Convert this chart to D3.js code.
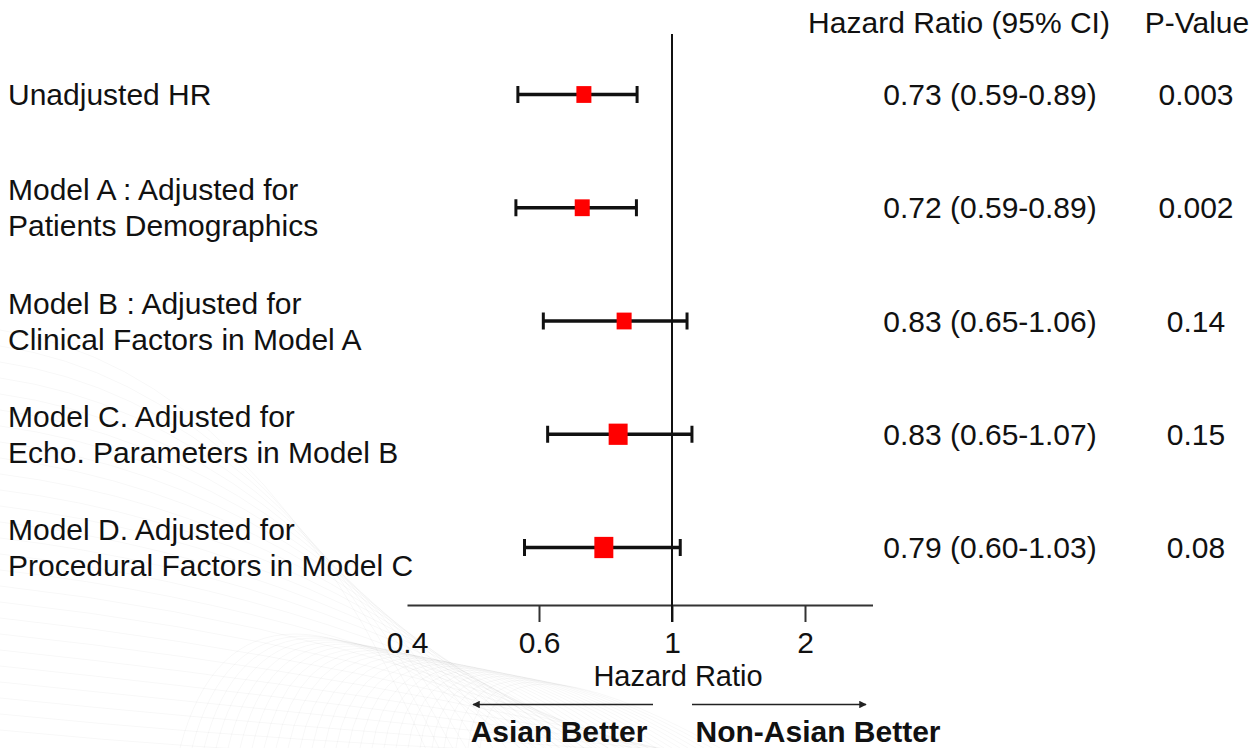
<!DOCTYPE html>
<html>
<head>
<meta charset="utf-8">
<script src="https://cdn.jsdelivr.net/npm/d3@7"></script>
<style>
  body { margin: 0; background: #fff; }
  svg { display: block; }
  text { font-family: "Liberation Sans", Arial, sans-serif; fill: #111; }
</style>
</head>
<body>
<div id="main"></div>
<script>
// row labels (one or two lines each)
const models = [
  ["Unadjusted HR"],
  ["Model A : Adjusted for", "Patients Demographics"],
  ["Model B : Adjusted for", "Clinical Factors in Model A"],
  ["Model C. Adjusted for", "Echo. Parameters in Model B"],
  ["Model D. Adjusted for", "Procedural Factors in Model C"]
]
// plotted positions
const hr = [0.735, 0.730, 0.856, 0.838, 0.795]
const ciLow = [0.568, 0.565, 0.613, 0.626, 0.578]
const ciHigh = [0.895, 0.893, 1.113, 1.150, 1.062]
const weight = [1, 1, 1, 1.6, 1.6]
// printed columns
const hrText = ["0.73 (0.59-0.89)", "0.72 (0.59-0.89)", "0.83 (0.65-1.06)", "0.83 (0.65-1.07)", "0.79 (0.60-1.03)"]
const pText = ["0.003", "0.002", "0.14", "0.15", "0.08"]
const tickVals = [0.4, 0.6, 1, 2]

const W = 1257, H = 748
const svg = d3.select("#main").append("svg").attr("width", W).attr("height", H)

// faint background swirl, lower left
const deco = svg.append("g").attr("fill", "none").attr("stroke", "#000").attr("stroke-opacity", 0.03)
d3.range(26).forEach(i => {
  const y0 = 330 + i * 16
  deco.append("path").attr("d", `M0,${y0} Q${260 + i * 6},${y0 + 40} ${430 + i * 14},${H + 10}`)
  deco.append("path").attr("d", `M${180 + i * 12},${H} Q${240 + i * 10},${520 + i * 4} ${520 + i * 8},${H}`)
})

const x = d3.scaleLinear().domain([0.4, 0.6, 1, 2, 2.5]).range([407, 539, 672, 805, 872.5])
const y = d3.scalePoint().domain(d3.range(models.length)).range([94.5, 547.5])
const size = d3.scaleSqrt().domain([0, 1]).range([0, 15])
const axisY = 605

// x axis
const axisG = svg.append("g").attr("transform", `translate(0,${axisY})`)
  .call(d3.axisBottom(x).tickValues(tickVals).tickFormat(d => String(d)).tickSize(17).tickSizeOuter(0))
axisG.select(".domain").attr("stroke", "#333").attr("stroke-width", 2)
axisG.selectAll(".tick line").attr("stroke", "#333").attr("stroke-width", 2)
  .filter(d => d === 0.4).remove()
axisG.selectAll(".tick text").attr("y", 48).attr("dy", null)
  .attr("font-size", 30).attr("font-family", null).attr("fill", "#111")

svg.append("text").attr("x", 678).attr("y", 686).attr("text-anchor", "middle")
  .attr("font-size", 29).text("Hazard Ratio")

// reference line at HR = 1
svg.append("line").attr("x1", x(1)).attr("x2", x(1)).attr("y1", 34).attr("y2", axisY + 17)
  .attr("stroke", "#111").attr("stroke-width", 2)

// headers
svg.append("text").attr("x", 959).attr("y", 33).attr("text-anchor", "middle").attr("font-size", 30).text("Hazard Ratio (95% CI)")
svg.append("text").attr("x", 1197).attr("y", 33).attr("text-anchor", "middle").attr("font-size", 30).text("P-Value")

const rows = svg.append("g").selectAll("g").data(models).enter().append("g")
  .attr("transform", (d, i) => `translate(0,${y(i)})`)

// labels
rows.append("text").attr("font-size", 30).each(function (d) {
  const t = d3.select(this)
  const off = d.length === 1 ? [0] : [-18, 18]
  d.forEach((line, k) => t.append("tspan").attr("x", 8).attr("y", off[k] + 10.5).text(line))
})

// error bars
rows.append("line").attr("x1", (d, i) => x(ciLow[i])).attr("x2", (d, i) => x(ciHigh[i]))
  .attr("stroke", "#111").attr("stroke-width", 3.5)
rows.append("line").attr("x1", (d, i) => x(ciLow[i])).attr("x2", (d, i) => x(ciLow[i]))
  .attr("y1", -8.5).attr("y2", 8.5).attr("stroke", "#111").attr("stroke-width", 3)
rows.append("line").attr("x1", (d, i) => x(ciHigh[i])).attr("x2", (d, i) => x(ciHigh[i]))
  .attr("y1", -8.5).attr("y2", 8.5).attr("stroke", "#111").attr("stroke-width", 3)

// markers
rows.append("rect")
  .attr("x", (d, i) => x(hr[i]) - size(weight[i]) / 2)
  .attr("y", (d, i) => -size(weight[i]) * 1.12 / 2)
  .attr("width", (d, i) => size(weight[i]))
  .attr("height", (d, i) => size(weight[i]) * 1.12)
  .attr("fill", "#ff0000")

// numbers
rows.append("text").attr("x", 990).attr("y", 10.5).attr("text-anchor", "middle").attr("font-size", 30)
  .text((d, i) => hrText[i])
rows.append("text").attr("x", 1196).attr("y", 10.5).attr("text-anchor", "middle").attr("font-size", 30)
  .text((d, i) => pText[i])

// direction arrows
const defs = svg.append("defs")
defs.append("marker").attr("id", "arr").attr("viewBox", "0 0 10 10").attr("refX", 9).attr("refY", 5)
  .attr("markerWidth", 5).attr("markerHeight", 5).attr("orient", "auto-start-reverse")
  .append("path").attr("d", "M0,0 L10,5 L0,10 Z").attr("fill", "#222")
svg.append("line").attr("x1", 653).attr("x2", 473).attr("y1", 704.5).attr("y2", 704.5)
  .attr("stroke", "#222").attr("stroke-width", 1.5).attr("marker-end", "url(#arr)")
svg.append("line").attr("x1", 692).attr("x2", 866).attr("y1", 704.5).attr("y2", 704.5)
  .attr("stroke", "#222").attr("stroke-width", 1.5).attr("marker-end", "url(#arr)")
svg.append("text").attr("x", 559).attr("y", 742).attr("text-anchor", "middle").attr("font-size", 30)
  .attr("font-weight", "bold").text("Asian Better")
svg.append("text").attr("x", 818).attr("y", 742).attr("text-anchor", "middle").attr("font-size", 30)
  .attr("font-weight", "bold").text("Non-Asian Better")
</script>
</body>
</html>
